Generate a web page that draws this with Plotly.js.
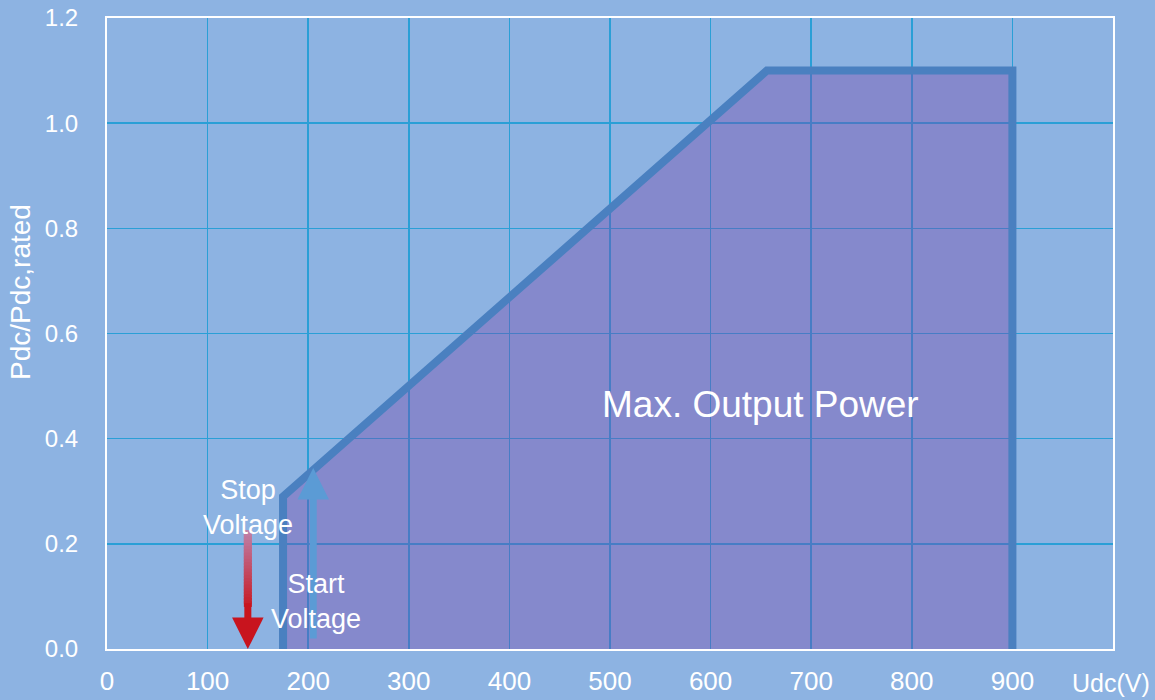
<!DOCTYPE html>
<html>
<head>
<meta charset="utf-8">
<script src="https://cdn.plot.ly/plotly-3.0.1.min.js"></script>
<style>html,body{margin:0;padding:0;background:#8db3e2;}#chart{width:1155px;height:700px;}</style>
</head>
<body>
<div id="chart"></div>
<script>
// Data
const curveU = [175, 175, 656, 900, 900];
const curveP = [0, 0.29, 1.1, 1.1, 0];
const stopVoltage = 140;
const stopArrowTop = 0.226;
const startVoltage = 205;
const startArrowTop = 0.344;
const xTicks = [0, 100, 200, 300, 400, 500, 600, 700, 800, 900];
const yTicks = [0, 0.2, 0.4, 0.6, 0.8, 1.0, 1.2];
const yTickText = ['0.0', '0.2', '0.4', '0.6', '0.8', '1.0', '1.2'];
const yTitle = 'Pdc/Pdc,rated';
const xTitle = 'Udc(V)';
const stopLabel = 'Stop<br>Voltage';
const startLabel = 'Start<br>Voltage';
const areaLabel = 'Max. Output Power';

const font = 'Liberation Sans, Arial, sans-serif';

const traces = [{
  x: curveU, y: curveP, type: 'scatter', mode: 'lines',
  fill: 'tozeroy', fillcolor: 'rgba(120,70,169,0.385)',
  line: {color: '#4a80c0', width: 8},
  hoverinfo: 'skip', showlegend: false
}];

// red arrow shaft fading toward the top (drawn as overlapping segments)
const shapes = [];
const fadeBottom = 0.08;
const nSeg = 24;
const step = (stopArrowTop - fadeBottom) / nSeg;
for (let i = 0; i < nSeg; i++) {
  const y0 = fadeBottom + step * i;
  const y1 = Math.min(stopArrowTop, y0 + step * 1.8);
  const t = (i + 0.5) / nSeg;
  const r = Math.round(200 + (190 - 200) * t);
  const g = Math.round(25 + (130 - 25) * t);
  const b = Math.round(35 + (170 - 35) * t);
  shapes.push({type: 'line', xref: 'x', yref: 'y', x0: stopVoltage, x1: stopVoltage, y0: y0, y1: y1,
    line: {color: `rgb(${r},${g},${b})`, width: 8}, layer: 'above'});
}

const layout = {
  width: 1155, height: 700,
  paper_bgcolor: '#8db3e2', plot_bgcolor: '#8db3e2',
  margin: {l: 107, r: 42, t: 18, b: 51},
  showlegend: false,
  font: {family: font, color: '#ffffff', size: 18},
  xaxis: {
    range: [0, 1000], tickvals: xTicks, ticks: '',
    showgrid: true, gridcolor: '#2a9fd6', gridwidth: 1.5,
    showline: true, mirror: true, linecolor: '#ffffff', linewidth: 2,
    zeroline: false, tickfont: {size: 26, color: '#ffffff'}, ticklabelstandoff: 8
  },
  yaxis: {
    range: [0, 1.2], tickvals: yTicks, ticktext: yTickText, ticks: '',
    showgrid: true, gridcolor: '#2a9fd6', gridwidth: 1.5,
    showline: true, mirror: true, linecolor: '#ffffff', linewidth: 2,
    zeroline: false, tickfont: {size: 24, color: '#ffffff'}, ticklabelstandoff: 22
  },
  shapes: shapes,
  annotations: [
    {x: stopVoltage, y: 0, ax: stopVoltage, ay: fadeBottom + 0.01, xref: 'x', yref: 'y', axref: 'x', ayref: 'y',
     text: '', showarrow: true, arrowhead: 2, arrowsize: 0.9, arrowwidth: 7, arrowcolor: '#c8141e'},
    {x: startVoltage, y: startArrowTop, ax: startVoltage, ay: 0.017, xref: 'x', yref: 'y', axref: 'x', ayref: 'y',
     text: '', showarrow: true, arrowhead: 2, arrowsize: 0.9, arrowwidth: 7, arrowcolor: '#5b9bd5'},
    {x: 140, y: 0.27, xref: 'x', yref: 'y', text: stopLabel, showarrow: false,
     font: {size: 27, color: '#ffffff', family: font}, align: 'center'},
    {x: 208, y: 0.09, xref: 'x', yref: 'y', text: startLabel, showarrow: false,
     font: {size: 27, color: '#ffffff', family: font}, align: 'center'},
    {x: 650, y: 0.465, xref: 'x', yref: 'y', text: areaLabel, showarrow: false,
     font: {size: 37, color: '#ffffff', family: font}},
    {x: 1, y: 0, xref: 'paper', yref: 'paper', xanchor: 'center', yanchor: 'top', yshift: -18, xshift: -2,
     text: xTitle, showarrow: false, font: {size: 25, color: '#ffffff', family: font}},
    {x: 20, y: 292, xref: 'pixel', yref: 'pixel', text: yTitle, showarrow: false, textangle: -90,
     font: {size: 28, color: '#ffffff', family: font}}
  ]
};

// convert pixel-placed y title into paper coords
(function () {
  const plotW = 1155 - 107 - 42, plotH = 700 - 18 - 51;
  layout.annotations.forEach(a => {
    if (a.xref === 'pixel') {
      a.x = (a.x - 107) / plotW; a.xref = 'paper';
      a.y = (700 - 51 - a.y) / plotH; a.yref = 'paper';
      a.xanchor = 'center'; a.yanchor = 'middle';
    }
  });
})();

Plotly.newPlot('chart', traces, layout, {displayModeBar: false, staticPlot: true});
</script>
</body>
</html>
